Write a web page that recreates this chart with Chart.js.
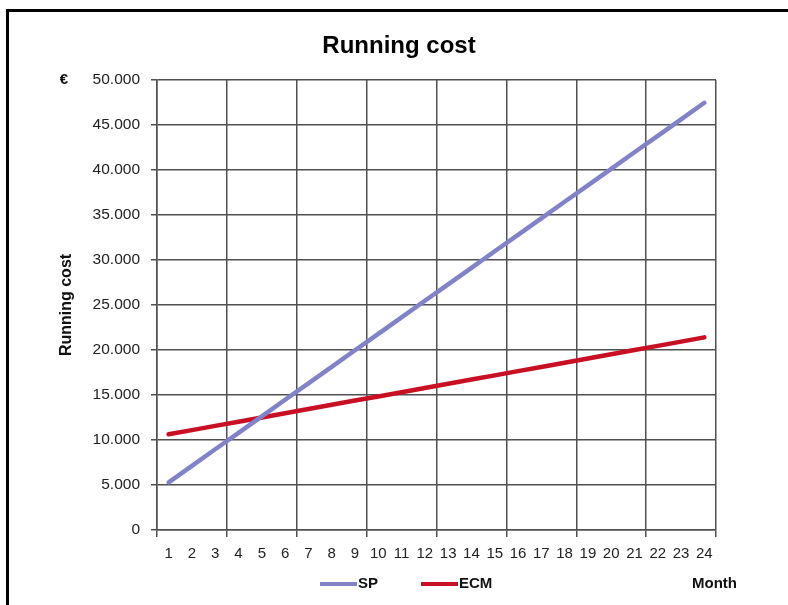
<!DOCTYPE html>
<html>
<head>
<meta charset="utf-8">
<script src="https://cdn.jsdelivr.net/npm/chart.js@4"></script>
<style>
  html, body { margin: 0; padding: 0; background: #fff; }
  #frame {
    position: absolute; left: 6px; top: 9px; width: 820px; height: 640px;
    border-left: 3px solid #000; border-top: 3px solid #000;
  }
  #wrap { position: absolute; left: 0; top: 0; width: 788px; height: 605px; }
</style>
</head>
<body>
<div id="frame"></div>
<div id="wrap"><canvas id="costChart" width="788" height="605"></canvas></div>
<script>
const months = [1, 2, 3, 4, 5, 6, 7, 8, 9, 10, 11, 12, 13, 14, 15, 16, 17, 18, 19, 20, 21, 22, 23, 24];
const spCost = [5300, 7130, 8970, 10800, 12630, 14470, 16300, 18130, 19970, 21800, 23630, 25470,
                27300, 29130, 30970, 32800, 34630, 36470, 38300, 40130, 41970, 43800, 45630, 47470];
const ecmCost = [10630, 11100, 11570, 12030, 12500, 12970, 13440, 13910, 14380, 14840, 15310, 15780,
                 16250, 16720, 17180, 17650, 18120, 18590, 19060, 19530, 19990, 20460, 20930, 21400];
const gridMonths = [0.5, 3.5, 6.5, 9.5, 12.5, 15.5, 18.5, 21.5, 24.5];

const gridColor = '#505050';
const fontFamily = '"Liberation Sans", Arial, sans-serif';

function fmt(v) {
  return String(v).replace(/\B(?=(\d{3})+(?!\d))/g, '.');
}

// title, euro sign, Month and the series legend
const extras = {
  id: 'extras',
  afterDraw(chart) {
    const c = chart.ctx;
    const area = chart.chartArea;
    c.save();
    c.fillStyle = '#000';
    c.textBaseline = 'middle';
    c.textAlign = 'center';
    c.font = 'bold 24px ' + fontFamily;
    c.fillText('Running cost', 399, 46);

    c.fillStyle = '#111';
    c.font = 'bold 15px ' + fontFamily;
    c.fillText('€', 64, area.top);
    c.textAlign = 'left';
    c.fillText('Month', area.right - 24, 584);

    let x = 320;
    chart.data.datasets.forEach(ds => {
      c.strokeStyle = ds.borderColor;
      c.lineWidth = 4;
      c.beginPath();
      c.moveTo(x, 584);
      c.lineTo(x + 37, 584);
      c.stroke();
      c.fillStyle = '#111';
      c.fillText(ds.label, x + 38, 584);
      x += 37 + 2 + c.measureText(ds.label).width + 42;
    });
    c.restore();
  }
};

const ctx = document.getElementById('costChart').getContext('2d');
const costChart = new Chart(ctx, {
  type: 'line',
  data: {
    labels: months,
    datasets: [{
      label: 'SP',
      data: months.map((m, i) => ({ x: m, y: spCost[i] })),
      borderColor: '#8282c8',
      borderWidth: 4.5,
      borderCapStyle: 'round',
      pointRadius: 0,
      tension: 0
    }, {
      label: 'ECM',
      data: months.map((m, i) => ({ x: m, y: ecmCost[i] })),
      borderColor: '#c80f23',
      borderWidth: 4.5,
      borderCapStyle: 'round',
      pointRadius: 0,
      tension: 0
    }]
  },
  options: {
    responsive: false,
    animation: false,
    layout: { padding: { left: 54, right: 72, top: 80, bottom: 35 } },
    plugins: {
      legend: { display: false },
      tooltip: { enabled: false },
      title: { display: false }
    },
    scales: {
      x: {
        type: 'linear',
        min: 0.5,
        max: 24.5,
        afterBuildTicks(scale) {
          const vals = gridMonths.concat(months).sort((a, b) => a - b);
          scale.ticks = vals.map(v => ({ value: v }));
        },
        afterFit(scale) { scale.height = 40; },
        grid: {
          color: c => (c.tick && Number.isInteger(c.tick.value)) ? 'rgba(0,0,0,0)' : gridColor,
          lineWidth: 1.5,
          tickLength: 7
        },
        border: { color: gridColor, width: 1.5 },
        ticks: {
          autoSkip: false,
          maxRotation: 0,
          padding: 8,
          color: '#222',
          font: { family: fontFamily, size: 15 },
          callback: v => Number.isInteger(v) ? String(v) : ''
        }
      },
      y: {
        min: 0,
        max: 50000,
        afterFit(scale) { scale.width = 103; },
        grid: { color: gridColor, lineWidth: 1.5, tickLength: 6 },
        border: { color: gridColor, width: 1.5 },
        ticks: {
          stepSize: 5000,
          padding: 11,
          color: '#222',
          font: { family: fontFamily, size: 15.5 },
          callback: v => fmt(v)
        },
        title: {
          display: true,
          text: 'Running cost',
          color: '#111',
          padding: { top: 3 },
          font: { family: fontFamily, size: 16, weight: 'bold' }
        }
      }
    }
  },
  plugins: [extras]
});
</script>
</body>
</html>
